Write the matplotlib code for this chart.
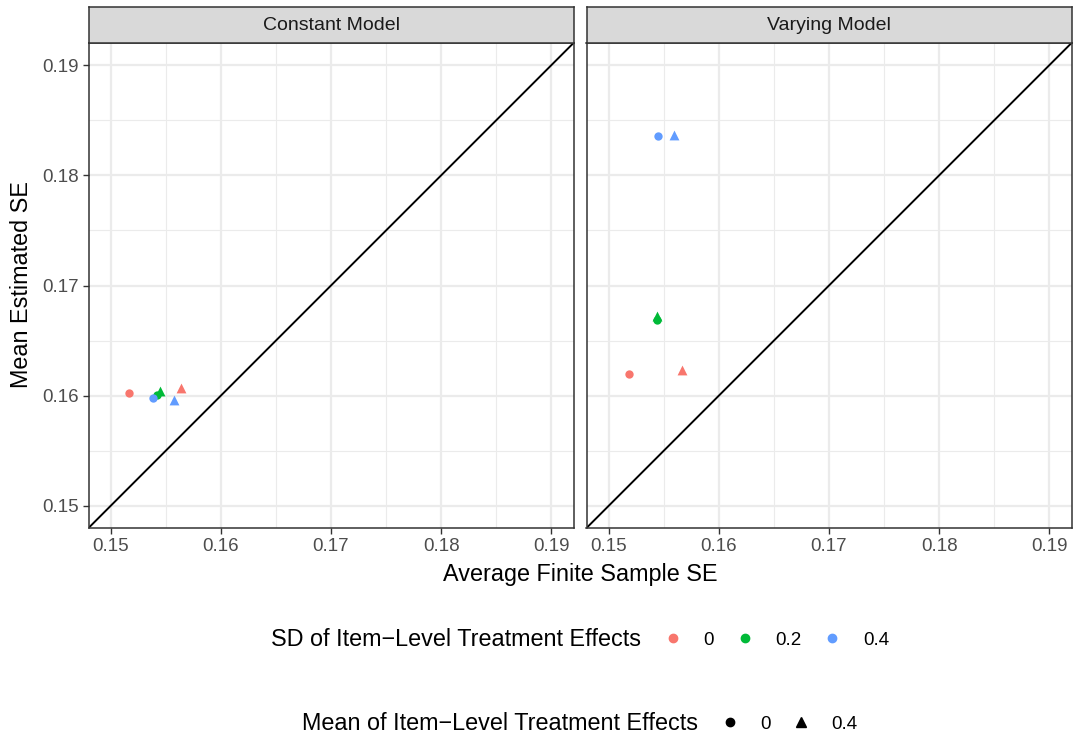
import matplotlib.pyplot as plt
from matplotlib.lines import Line2D

plt.rcParams['font.family'] = ['Liberation Sans', 'DejaVu Sans']

# data
panels = ['Constant Model', 'Varying Model']
sd_levels = ['0', '0.2', '0.4']
mean_levels = ['0', '0.4']
sd_colors = ['#F8766D', '#00BA38', '#619CFF']
mean_markers = ['o', '^']

# finite sample SE (x) and estimated SE (y), per panel -> per SD level -> [mean 0, mean 0.4]
const_x = [[0.15167, 0.15639], [0.15418, 0.15448], [0.15382, 0.15578]]
const_y = [[0.16027, 0.16072], [0.16009, 0.16039], [0.15975, 0.15959]]
vary_x = [[0.15186, 0.15663], [0.15442, 0.15436], [0.15446, 0.15596]]
vary_y = [[0.16199, 0.16235], [0.16689, 0.16719], [0.18357, 0.18366]]

ticks = [0.15, 0.16, 0.17, 0.18, 0.19]
minor = [0.155, 0.165, 0.175, 0.185]
lims = (0.148, 0.192)

W, H = 1073, 740
fig = plt.figure(figsize=(W / 100, H / 100), dpi=100)

def box(x0, y0, x1, y1):
    return [x0 / W, 1 - y1 / H, (x1 - x0) / W, (y1 - y0) / H]

panel_x = [(88.5, 573.5), (586.5, 1071.5)]
all_x = [const_x, vary_x]
all_y = [const_y, vary_y]

for p, (x0, x1) in enumerate(panel_x):
    ax = fig.add_axes(box(x0, 43, x1, 528))
    ax.set_xlim(lims)
    ax.set_ylim(lims)
    ax.set_xticks(ticks)
    ax.set_xticks(minor, minor=True)
    ax.set_yticks(ticks)
    ax.set_yticks(minor, minor=True)
    ax.set_xticklabels([f'{t:.2f}' for t in ticks])
    ax.grid(True, which='major', color='#EBEBEB', lw=1.6)
    ax.grid(True, which='minor', color='#EBEBEB', lw=0.8)
    ax.set_axisbelow(True)
    ax.tick_params(which='minor', length=0)
    ax.tick_params(which='major', length=4, width=1, color='#333333',
                   labelsize=13.5, labelcolor='#4D4D4D', pad=3)
    if p == 1:
        ax.tick_params(axis='y', left=False, labelleft=False)
    for s in ax.spines.values():
        s.set_color('#333333')
        s.set_linewidth(1.1)
    ax.axline((0.15, 0.15), slope=1, color='black', lw=1.4, zorder=2)
    for i, col in enumerate(sd_colors):
        for j, mk in enumerate(mean_markers):
            ax.scatter(all_x[p][i][j], all_y[p][i][j], c=col,
                       marker=mk, s=36 if mk == 'o' else 50,
                       linewidths=0, zorder=3)

    st = fig.add_axes(box(x0, 7, x1, 43))
    st.set_facecolor('#D9D9D9')
    st.set_xticks([])
    st.set_yticks([])
    for s in st.spines.values():
        s.set_color('#333333')
        s.set_linewidth(1.1)
    st.text(0.5, 0.5, panels[p], ha='center', va='center',
            fontsize=14, color='#1A1A1A', transform=st.transAxes)

fig.text((88.5 + 1071.5) / 2 / W, 1 - 574 / H, 'Average Finite Sample SE',
         ha='center', va='center', fontsize=16.8)
fig.text(22 / W, 1 - 285 / H, 'Mean Estimated SE', ha='center',
         va='center', rotation=90, fontsize=16.8)

# legend rows
fig.text(641 / W, 1 - 640 / H, 'SD of Item\u2212Level Treatment Effects',
         ha='right', va='center', fontsize=16.8)
h1 = [Line2D([], [], ls='', marker='o', color=c, markersize=6) for c in sd_colors]
fig.legend(h1, sd_levels, loc='center left', bbox_to_anchor=(663.3 / W, 1 - 640 / H),
           ncol=3, frameon=False, fontsize=13.5, handlelength=1.0,
           handletextpad=1.13, columnspacing=1.15, borderpad=0, borderaxespad=0)

fig.text(698 / W, 1 - 724 / H, 'Mean of Item\u2212Level Treatment Effects',
         ha='right', va='center', fontsize=16.8)
h2 = [Line2D([], [], ls='', marker=m, color='black', markersize=6 if m == 'o' else 7.5)
      for m in mean_markers]
fig.legend(h2, mean_levels, loc='center left', bbox_to_anchor=(720.6 / W, 1 - 724 / H),
           ncol=2, frameon=False, fontsize=13.5, handlelength=1.0,
           handletextpad=1.1, columnspacing=1.15, borderpad=0, borderaxespad=0)

fig.savefig('out.png', dpi=100)
